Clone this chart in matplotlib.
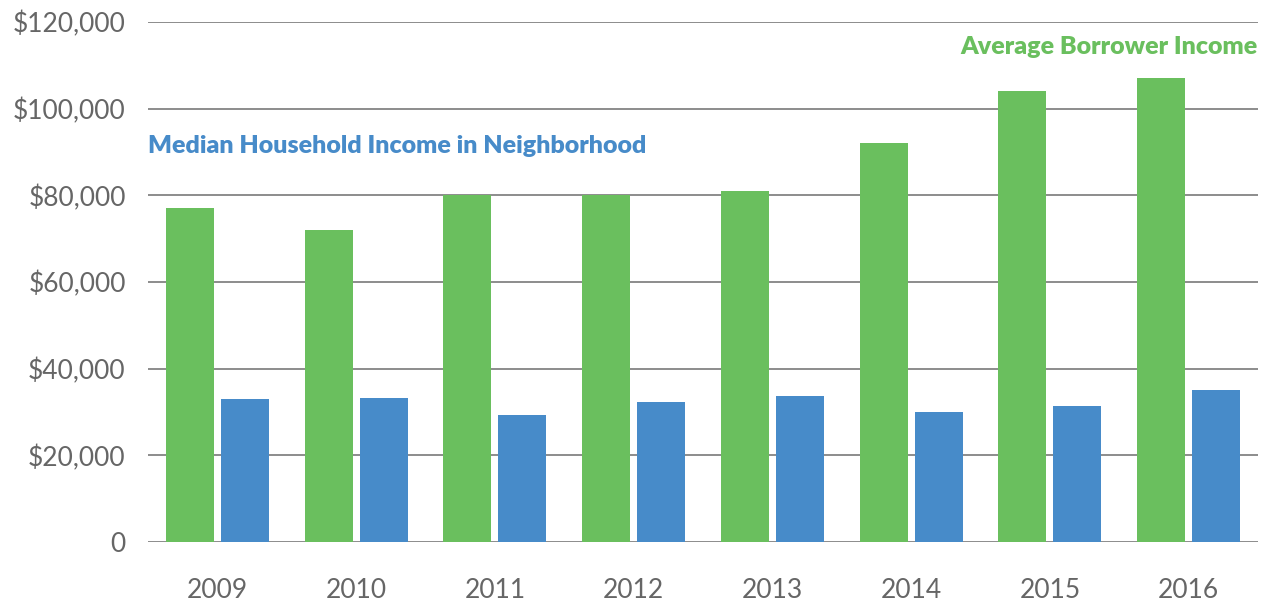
import numpy as np
import matplotlib
matplotlib.use("Agg")
import matplotlib.pyplot as plt

# -------------------------------------------------------------------
# Datos
# -------------------------------------------------------------------
years = ["2009", "2010", "2011", "2012", "2013", "2014", "2015", "2016"]
avg_borrower = [77000, 72000, 80000, 80000, 81000, 92000, 104000, 107000]
median_household = [33000, 33200, 29300, 32300, 33700, 30000, 31400, 35100]
y_ticks = [0, 20000, 40000, 60000, 80000, 100000, 120000]
y_labels = ["0", "$20,000", "$40,000", "$60,000", "$80,000", "$100,000", "$120,000"]

green = "#6ABF5E"
blue = "#478BC9"
grey_txt = "#666666"

plt.rcParams["font.family"] = ["Lato", "DejaVu Sans"]

fig = plt.figure(figsize=(12.7, 6.03), dpi=100)
ax = fig.add_axes([148/1270, 1 - 542/603, (1258 - 148)/1270, (542 - 22)/603])

x = np.arange(len(years))
w = 0.346
off = 0.198
ax.bar(x - off, avg_borrower, width=w, color=green, zorder=3)
ax.bar(x + off, median_household, width=w, color=blue, zorder=3)

ax.set_xlim(-0.5, len(years) - 0.5)
ax.set_ylim(0, 120000)
ax.set_yticks(y_ticks)
ax.set_yticklabels(y_labels)
ax.set_xticks(x)
ax.set_xticklabels(years)

ax.yaxis.grid(True, color="#8c8c8c", linewidth=1.4, zorder=0)
ax.set_axisbelow(True)
for s in ax.spines.values():
    s.set_visible(False)
ax.tick_params(axis="both", length=0, labelsize=19, labelcolor=grey_txt)
ax.tick_params(axis="y", pad=16)
ax.tick_params(axis="x", pad=26)

# — Etiquetas de las series
ax.text(1.0, 114200, "Average Borrower Income", transform=ax.get_yaxis_transform(),
        ha="right", va="center", color=green, fontsize=18, fontweight="heavy")
ax.text(0.0, 91400, "Median Household Income in Neighborhood",
        transform=ax.get_yaxis_transform(),
        ha="left", va="center", color=blue, fontsize=18, fontweight="heavy")

fig.savefig("out.png", dpi=100)
